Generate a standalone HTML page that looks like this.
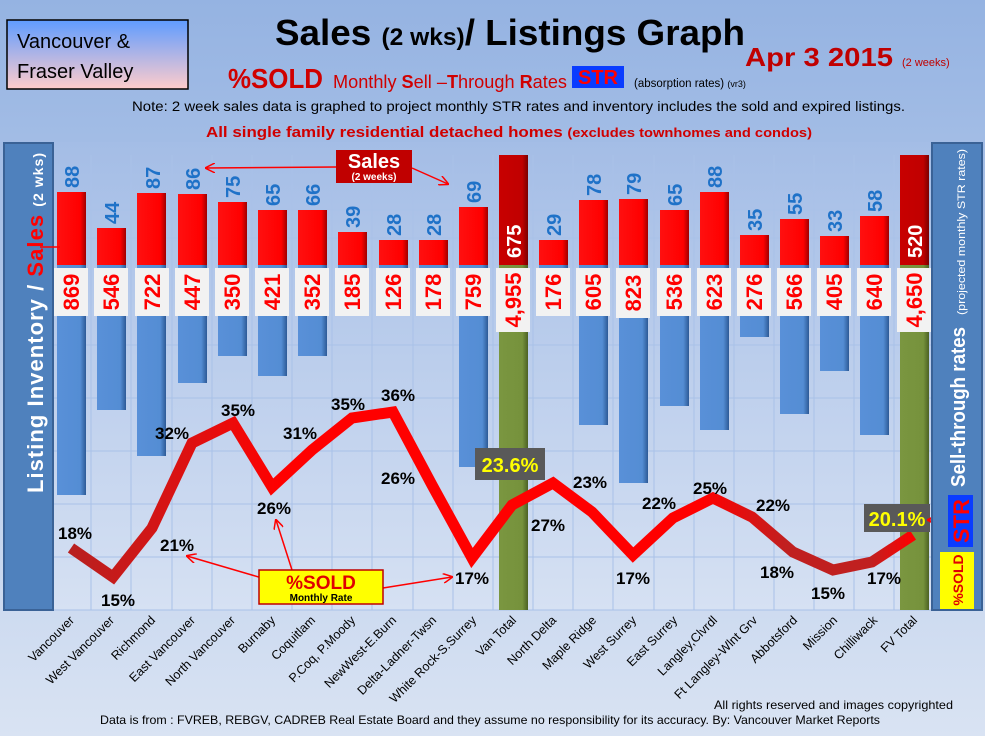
<!DOCTYPE html>
<html><head><meta charset="utf-8"><style>
html,body{margin:0;padding:0;width:985px;height:736px;overflow:hidden}
svg{display:block;font-family:"Liberation Sans",sans-serif}
.b{font-weight:bold}
</style></head><body>
<svg width="985" height="736" viewBox="0 0 985 736" xmlns="http://www.w3.org/2000/svg">
<defs>
<linearGradient id="bg" x1="0" y1="0" x2="0" y2="1"><stop offset="0" stop-color="#95b3e2"/><stop offset="1" stop-color="#d9e3f3"/></linearGradient>
<linearGradient id="pa" x1="0" y1="0" x2="0" y2="1"><stop offset="0" stop-color="#a4bde6"/><stop offset="1" stop-color="#d6e1f3"/></linearGradient>
<linearGradient id="vb" x1="0" y1="0" x2="0" y2="1"><stop offset="0" stop-color="#5f9cff"/><stop offset="1" stop-color="#ffcccc"/></linearGradient>
<linearGradient id="rd" x1="0" y1="0" x2="1" y2="0"><stop offset="0" stop-color="#ff1010"/><stop offset="0.8" stop-color="#ff0000"/><stop offset="1" stop-color="#a00000"/></linearGradient>
<linearGradient id="dr" x1="0" y1="0" x2="1" y2="0"><stop offset="0" stop-color="#c80000"/><stop offset="0.8" stop-color="#c00000"/><stop offset="1" stop-color="#7a0000"/></linearGradient>
<linearGradient id="bl" x1="0" y1="0" x2="1" y2="0"><stop offset="0" stop-color="#5990d8"/><stop offset="0.8" stop-color="#548dd4"/><stop offset="1" stop-color="#2d5a96"/></linearGradient>
<linearGradient id="gr" x1="0" y1="0" x2="1" y2="0"><stop offset="0" stop-color="#7a9640"/><stop offset="0.8" stop-color="#76923c"/><stop offset="1" stop-color="#4c6224"/></linearGradient>
<linearGradient id="ln" x1="0" y1="0" x2="1" y2="0"><stop offset="0" stop-color="#b82020"/><stop offset="0.15" stop-color="#e01010"/><stop offset="0.25" stop-color="#ff0000"/><stop offset="0.75" stop-color="#ff0000"/><stop offset="0.85" stop-color="#c02020"/><stop offset="0.95" stop-color="#c02020"/><stop offset="1" stop-color="#ff0000"/></linearGradient>
<marker id="ar" markerWidth="10" markerHeight="10" refX="9" refY="5" orient="auto" markerUnits="userSpaceOnUse"><path d="M0,0 L10,5 L0,10" fill="none" stroke="#ff0000" stroke-width="1.5"/></marker>
</defs>
<rect width="985" height="736" fill="url(#bg)"/>
<rect x="53" y="142" width="879" height="468" fill="url(#pa)"/>
<g stroke="#a9c1e8" stroke-width="1">
<line x1="91" y1="155" x2="91" y2="610"/><line x1="131" y1="155" x2="131" y2="610"/><line x1="172" y1="155" x2="172" y2="610"/><line x1="212" y1="155" x2="212" y2="610"/><line x1="252" y1="155" x2="252" y2="610"/><line x1="292" y1="155" x2="292" y2="610"/><line x1="332" y1="155" x2="332" y2="610"/><line x1="372" y1="155" x2="372" y2="610"/><line x1="413" y1="155" x2="413" y2="610"/><line x1="453" y1="155" x2="453" y2="610"/><line x1="493" y1="155" x2="493" y2="610"/><line x1="533" y1="155" x2="533" y2="610"/><line x1="573" y1="155" x2="573" y2="610"/><line x1="613" y1="155" x2="613" y2="610"/><line x1="654" y1="155" x2="654" y2="610"/><line x1="694" y1="155" x2="694" y2="610"/><line x1="734" y1="155" x2="734" y2="610"/><line x1="774" y1="155" x2="774" y2="610"/><line x1="814" y1="155" x2="814" y2="610"/><line x1="854" y1="155" x2="854" y2="610"/><line x1="894" y1="155" x2="894" y2="610"/>
<line x1="53" y1="210" x2="932" y2="210"/><line x1="53" y1="238" x2="932" y2="238"/><line x1="53" y1="345" x2="932" y2="345"/><line x1="53" y1="398" x2="932" y2="398"/><line x1="53" y1="451" x2="932" y2="451"/><line x1="53" y1="504" x2="932" y2="504"/><line x1="53" y1="557" x2="932" y2="557"/><line x1="53" y1="610" x2="932" y2="610"/>
</g>
<g fill="url(#bl)">
<rect x="57" y="265" width="29" height="230"/><rect x="97" y="265" width="29" height="145"/><rect x="137" y="265" width="29" height="191"/><rect x="178" y="265" width="29" height="118"/><rect x="218" y="265" width="29" height="91"/><rect x="258" y="265" width="29" height="111"/><rect x="298" y="265" width="29" height="91"/><rect x="338" y="265" width="29" height="49"/><rect x="379" y="265" width="29" height="33"/><rect x="419" y="265" width="29" height="47"/><rect x="459" y="265" width="29" height="202"/><rect x="539" y="265" width="29" height="47"/><rect x="579" y="265" width="29" height="160"/><rect x="619" y="265" width="29" height="218"/><rect x="660" y="265" width="29" height="141"/><rect x="700" y="265" width="29" height="165"/><rect x="740" y="265" width="29" height="72"/><rect x="780" y="265" width="29" height="149"/><rect x="820" y="265" width="29" height="106"/><rect x="860" y="265" width="29" height="170"/>
</g>
<rect x="499" y="265" width="29" height="345" fill="url(#gr)"/><rect x="900" y="265" width="29" height="345" fill="url(#gr)"/>
<g fill="url(#rd)">
<rect x="57" y="192" width="29" height="73"/><rect x="97" y="228" width="29" height="37"/><rect x="137" y="193" width="29" height="72"/><rect x="178" y="194" width="29" height="71"/><rect x="218" y="202" width="29" height="63"/><rect x="258" y="210" width="29" height="55"/><rect x="298" y="210" width="29" height="55"/><rect x="338" y="232" width="29" height="33"/><rect x="379" y="240" width="29" height="25"/><rect x="419" y="240" width="29" height="25"/><rect x="459" y="207" width="29" height="58"/><rect x="539" y="240" width="29" height="25"/><rect x="579" y="200" width="29" height="65"/><rect x="619" y="199" width="29" height="66"/><rect x="660" y="210" width="29" height="55"/><rect x="700" y="192" width="29" height="73"/><rect x="740" y="235" width="29" height="30"/><rect x="780" y="219" width="29" height="46"/><rect x="820" y="236" width="29" height="29"/><rect x="860" y="216" width="29" height="49"/>
</g>
<rect x="499" y="155" width="29" height="110" fill="url(#dr)"/><rect x="900" y="155" width="29" height="110" fill="url(#dr)"/>
<g fill="#f2f2f2">
<rect x="54" y="268" width="34" height="48"/><rect x="94" y="268" width="34" height="48"/><rect x="135" y="268" width="34" height="48"/><rect x="175" y="268" width="34" height="48"/><rect x="215" y="268" width="34" height="48"/><rect x="255" y="268" width="34" height="48"/><rect x="295" y="268" width="34" height="48"/><rect x="335" y="268" width="34" height="48"/><rect x="376" y="268" width="34" height="48"/><rect x="416" y="268" width="34" height="48"/><rect x="456" y="268" width="34" height="48"/><rect x="496" y="268" width="34" height="64"/><rect x="536" y="268" width="34" height="48"/><rect x="576" y="268" width="34" height="48"/><rect x="616" y="268" width="34" height="50"/><rect x="657" y="268" width="34" height="48"/><rect x="697" y="268" width="34" height="48"/><rect x="737" y="268" width="34" height="48"/><rect x="777" y="268" width="34" height="48"/><rect x="817" y="268" width="34" height="48"/><rect x="857" y="268" width="34" height="48"/><rect x="897" y="268" width="34" height="64"/>
</g>
<g fill="#ff0000" class="b" font-size="22" text-anchor="middle">
<text transform="translate(79,292) rotate(-90)">869</text><text transform="translate(119,292) rotate(-90)">546</text><text transform="translate(160,292) rotate(-90)">722</text><text transform="translate(200,292) rotate(-90)">447</text><text transform="translate(240,292) rotate(-90)">350</text><text transform="translate(280,292) rotate(-90)">421</text><text transform="translate(320,292) rotate(-90)">352</text><text transform="translate(360,292) rotate(-90)">185</text><text transform="translate(401,292) rotate(-90)">126</text><text transform="translate(441,292) rotate(-90)">178</text><text transform="translate(481,292) rotate(-90)">759</text><text transform="translate(521,300) rotate(-90)">4,955</text><text transform="translate(561,292) rotate(-90)">176</text><text transform="translate(601,292) rotate(-90)">605</text><text transform="translate(641,293) rotate(-90)">823</text><text transform="translate(682,292) rotate(-90)">536</text><text transform="translate(722,292) rotate(-90)">623</text><text transform="translate(762,292) rotate(-90)">276</text><text transform="translate(802,292) rotate(-90)">566</text><text transform="translate(842,292) rotate(-90)">405</text><text transform="translate(882,292) rotate(-90)">640</text><text transform="translate(922,300) rotate(-90)">4,650</text>
</g>
<g fill="#1f72c8" class="b" font-size="20">
<text transform="translate(79,188) rotate(-90)">88</text><text transform="translate(119,224) rotate(-90)">44</text><text transform="translate(160,189) rotate(-90)">87</text><text transform="translate(200,190) rotate(-90)">86</text><text transform="translate(240,198) rotate(-90)">75</text><text transform="translate(280,206) rotate(-90)">65</text><text transform="translate(320,206) rotate(-90)">66</text><text transform="translate(360,228) rotate(-90)">39</text><text transform="translate(401,236) rotate(-90)">28</text><text transform="translate(441,236) rotate(-90)">28</text><text transform="translate(481,203) rotate(-90)">69</text><text transform="translate(561,236) rotate(-90)">29</text><text transform="translate(601,196) rotate(-90)">78</text><text transform="translate(641,195) rotate(-90)">79</text><text transform="translate(682,206) rotate(-90)">65</text><text transform="translate(722,188) rotate(-90)">88</text><text transform="translate(762,231) rotate(-90)">35</text><text transform="translate(802,215) rotate(-90)">55</text><text transform="translate(842,232) rotate(-90)">33</text><text transform="translate(882,212) rotate(-90)">58</text>
</g>
<g fill="#fff" class="b" font-size="20">
<text transform="translate(521,258) rotate(-90)">675</text><text transform="translate(922,258) rotate(-90)">520</text>
</g>
<polyline points="71,548 113,577 152,528 192,443 233,423 272,487 312,450 352,418 393,412 432,485 472,558 512,505 553,483 592,512 633,555 673,518 713,498 752,517 793,552 833,570 872,562 913,535" fill="none" stroke="url(#ln)" stroke-width="11" stroke-linejoin="miter"/>
<g class="b" font-size="17" fill="#000" text-anchor="middle">
<text x="75" y="539">18%</text><text x="118" y="606">15%</text><text x="177" y="551">21%</text><text x="172" y="439">32%</text><text x="238" y="416">35%</text><text x="274" y="514">26%</text><text x="300" y="439">31%</text><text x="348" y="410">35%</text><text x="398" y="401">36%</text><text x="398" y="484">26%</text><text x="472" y="584">17%</text><text x="548" y="531">27%</text><text x="590" y="488">23%</text><text x="633" y="584">17%</text><text x="659" y="509">22%</text><text x="710" y="494">25%</text><text x="773" y="511">22%</text><text x="777" y="578">18%</text><text x="828" y="599">15%</text><text x="884" y="584">17%</text>
</g>
<rect x="475" y="448" width="70" height="32" fill="#595959"/>
<text x="510" y="472" text-anchor="middle" class="b" font-size="20" fill="#ffff00">23.6%</text>
<rect x="864" y="504" width="66" height="28" fill="#595959"/>
<text x="897" y="526" text-anchor="middle" class="b" font-size="20" fill="#ffff00">20.1%</text>
<line x1="948" y1="520" x2="928" y2="520" stroke="#ff0000" stroke-width="1.5" marker-end="url(#ar)"/>
<line x1="336" y1="167" x2="206" y2="168" stroke="#ff0000" stroke-width="1.5" marker-end="url(#ar)"/>
<line x1="412" y1="168" x2="448" y2="184" stroke="#ff0000" stroke-width="1.5" marker-end="url(#ar)"/>
<rect x="336" y="150" width="76" height="33" fill="#c00000"/>
<text x="374" y="168" text-anchor="middle" class="b" font-size="20" fill="#fff">Sales</text>
<text x="374" y="180" text-anchor="middle" class="b" font-size="10" fill="#fff">(2 weeks)</text>
<line x1="262" y1="578" x2="187" y2="556" stroke="#ff0000" stroke-width="1.5" marker-end="url(#ar)"/>
<line x1="292" y1="570" x2="276" y2="520" stroke="#ff0000" stroke-width="1.5" marker-end="url(#ar)"/>
<line x1="383" y1="588" x2="452" y2="577" stroke="#ff0000" stroke-width="1.5" marker-end="url(#ar)"/>
<rect x="259" y="570" width="124" height="34" fill="#ffff00" stroke="#c00000" stroke-width="1.5"/>
<text x="321" y="589" text-anchor="middle" class="b" font-size="19" fill="#e00000">%SOLD</text>
<text x="321" y="601" text-anchor="middle" class="b" font-size="10" fill="#000">Monthly Rate</text>
<rect x="4" y="143" width="49" height="467" fill="#4f81bd" stroke="#3a6296" stroke-width="2"/>
<text transform="translate(43,493) rotate(-90)" class="b" font-size="22" fill="#fff" textLength="340">Listing Inventory / <tspan fill="#ff0000">Sales</tspan> <tspan font-size="14">(2  wks)</tspan></text>
<line x1="40" y1="247" x2="60" y2="247" stroke="#ff0000" stroke-width="1.5"/>
<rect x="932" y="143" width="50" height="467" fill="#4f81bd" stroke="#3a6296" stroke-width="2"/>
<text transform="translate(965,487) rotate(-90)" class="b" font-size="20" fill="#fff" textLength="160" lengthAdjust="spacingAndGlyphs">Sell-through rates</text>
<text transform="translate(965,315) rotate(-90)" font-size="11" fill="#fff" textLength="166" lengthAdjust="spacingAndGlyphs">(projected monthly STR rates)</text>
<rect x="948" y="495" width="25" height="52" fill="#0a3cff"/>
<text transform="translate(969,521) rotate(-90)" text-anchor="middle" class="b" font-size="22" fill="#ff0000">STR</text>
<rect x="940" y="552" width="34" height="57" fill="#ffff00"/>
<text transform="translate(963,580) rotate(-90)" text-anchor="middle" class="b" font-size="14" fill="#e00000">%SOLD</text>
<g font-size="12.5" fill="#000" text-anchor="end">
<text transform="translate(75,621) rotate(-45)">Vancouver</text><text transform="translate(115,621) rotate(-45)">West Vancouver</text><text transform="translate(156,621) rotate(-45)">Richmond</text><text transform="translate(196,621) rotate(-45)">East Vancouver</text><text transform="translate(236,621) rotate(-45)">North Vancouver</text><text transform="translate(276,621) rotate(-45)">Burnaby</text><text transform="translate(316,621) rotate(-45)">Coquitlam</text><text transform="translate(356,621) rotate(-45)">P.Coq, P.Moody</text><text transform="translate(397,621) rotate(-45)">NewWest-E.Burn</text><text transform="translate(437,621) rotate(-45)">Delta-Ladner-Twsn</text><text transform="translate(477,621) rotate(-45)">White Rock-S.Surrey</text><text transform="translate(517,621) rotate(-45)">Van Total</text><text transform="translate(557,621) rotate(-45)">North Delta</text><text transform="translate(597,621) rotate(-45)">Maple Ridge</text><text transform="translate(637,621) rotate(-45)">West Surrey</text><text transform="translate(678,621) rotate(-45)">East Surrey</text><text transform="translate(718,621) rotate(-45)">Langley,Clvrdl</text><text transform="translate(758,621) rotate(-45)">Ft Langley-Wlnt Grv</text><text transform="translate(798,621) rotate(-45)">Abbotsford</text><text transform="translate(838,621) rotate(-45)">Mission</text><text transform="translate(878,621) rotate(-45)">Chilliwack</text><text transform="translate(918,621) rotate(-45)">FV Total</text>
</g>
<rect x="7" y="20" width="181" height="69" fill="url(#vb)" stroke="#000" stroke-width="1.5"/>
<text x="17" y="48" font-size="20" fill="#000">Vancouver &amp;</text>
<text x="17" y="78" font-size="20" fill="#000">Fraser Valley</text>
<text x="275" y="45" class="b" font-size="36" fill="#000" textLength="470" lengthAdjust="spacingAndGlyphs">Sales <tspan font-size="24">(2 wks)</tspan>/ Listings Graph</text>
<text x="745" y="66" class="b" font-size="26" fill="#c00000" textLength="148" lengthAdjust="spacingAndGlyphs">Apr 3 2015</text>
<text x="902" y="66" font-size="11" fill="#c00000">(2 weeks)</text>
<text x="228" y="88" class="b" font-size="28" fill="#d00000" textLength="95" lengthAdjust="spacingAndGlyphs">%SOLD</text>
<text x="333" y="88" font-size="18" fill="#d00000" textLength="234" lengthAdjust="spacingAndGlyphs">Monthly <tspan class="b">S</tspan>ell –<tspan class="b">T</tspan>hrough <tspan class="b">R</tspan>ates</text>
<rect x="572" y="66" width="52" height="22" fill="#0a3cff"/>
<text x="598" y="84" text-anchor="middle" class="b" font-size="20" fill="#ff0000">STR</text>
<text x="634" y="87" font-size="11.5" fill="#000">(absorption rates) <tspan font-size="9">(vr3)</tspan></text>
<text x="132" y="111" font-size="14" fill="#000" textLength="773" lengthAdjust="spacingAndGlyphs">Note: 2 week sales data is graphed to project monthly STR rates and inventory includes the sold and expired listings.</text>
<text x="206" y="137" class="b" font-size="15" fill="#d00000" textLength="606" lengthAdjust="spacingAndGlyphs">All single family residential detached homes <tspan font-size="13">(excludes townhomes and condos)</tspan></text>
<text x="714" y="709" font-size="12" fill="#000" textLength="239" lengthAdjust="spacingAndGlyphs">All rights reserved and  images copyrighted</text>
<text x="100" y="724" font-size="12" fill="#000" textLength="780" lengthAdjust="spacingAndGlyphs">Data is from : FVREB, REBGV, CADREB Real Estate Board and they assume no responsibility for its accuracy. By: Vancouver Market Reports</text>
</svg>
</body></html>
